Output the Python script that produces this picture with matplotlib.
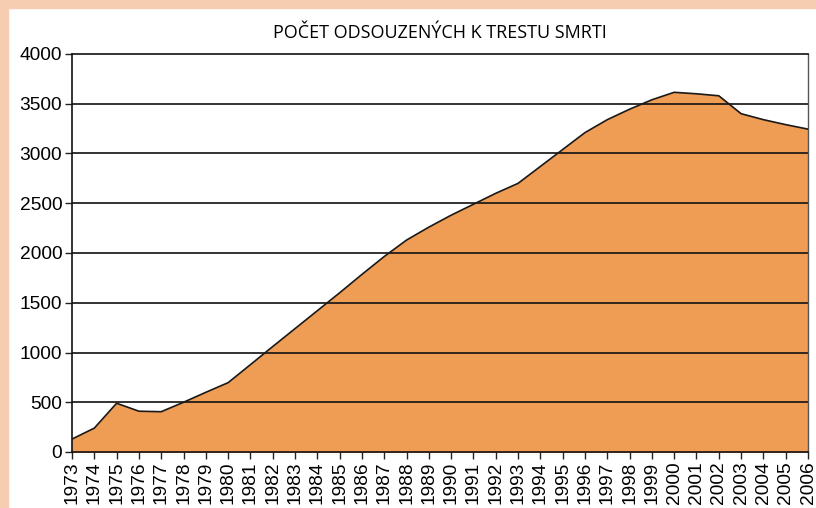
import matplotlib.pyplot as plt
from matplotlib.patches import Rectangle

# Počet odsouzených k trestu smrti
years = list(range(1973, 2007))
counts = [130, 240, 490, 410, 405, 500, 600, 697, 878, 1060,
          1240, 1420, 1600, 1785, 1965, 2130, 2260, 2380, 2490, 2600,
          2700, 2870, 3040, 3210, 3340, 3445, 3540, 3615, 3600, 3580,
          3400, 3340, 3290, 3245]
yticks = [0, 500, 1000, 1500, 2000, 2500, 3000, 3500, 4000]

fig = plt.figure(figsize=(8.16, 5.08), dpi=100)
fig.patch.set_facecolor('white')

# peach scan border on the top and left
fig.patches.append(Rectangle((0, 0), 8/816, 1, transform=fig.transFigure,
                             color='#F6CDB0', zorder=0))
fig.patches.append(Rectangle((0, 1 - 8/508), 1, 8/508, transform=fig.transFigure,
                             color='#F6CDB0', zorder=0))

ax = fig.add_axes([72/816, 1 - 452/508, 736/816, 398/508])
ax.fill_between(years, counts, 0, color='#EF9C55', zorder=1)
ax.plot(years, counts, color='#1a1a1a', lw=1.2, zorder=3)

for v in yticks[1:-1]:
    ax.axhline(v, color='#111111', lw=1.2, zorder=2)

ax.set_xlim(1973, 2006)
ax.set_ylim(0, 4000)
ax.set_yticks(yticks)
ax.set_xticks(years)
ax.set_xticklabels([str(y) for y in years], rotation=90,
                   fontsize=13.8, family='Liberation Sans')
ax.set_yticklabels([str(v) for v in yticks], fontsize=13.8, family='Liberation Sans')
ax.tick_params(axis='both', direction='out', length=5, width=1, color='#222222', pad=2)

for s in ['left', 'top', 'bottom']:
    ax.spines[s].set_color('#111111')
    ax.spines[s].set_linewidth(1.2)
ax.spines['right'].set_color('#555555')
ax.spines['right'].set_linewidth(1)

fig.text(440/816, 1 - 33/508, 'POČET ODSOUZENÝCH K TRESTU SMRTI',
         ha='center', va='center', fontsize=13, family='Open Sans')

fig.savefig('out.png', dpi=100)
